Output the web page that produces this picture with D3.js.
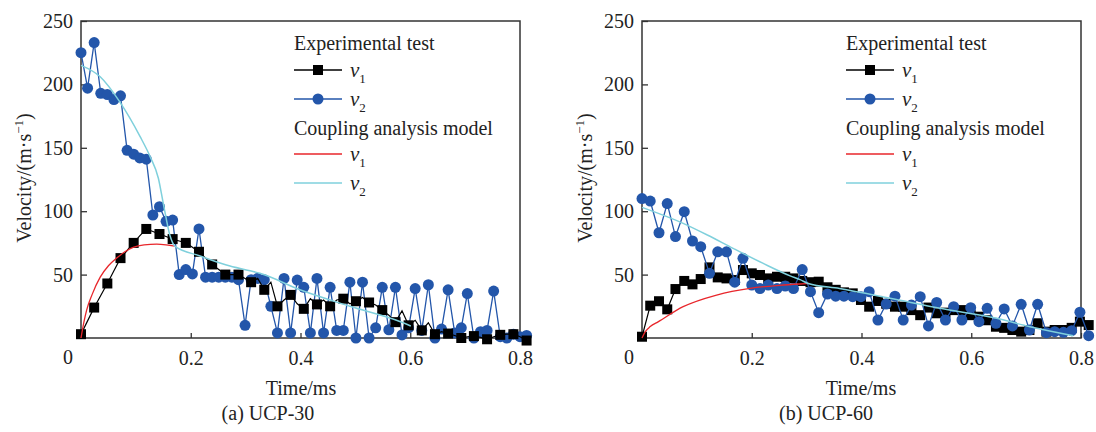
<!DOCTYPE html>
<html>
<head>
<meta charset="utf-8">
<script src="https://cdn.jsdelivr.net/npm/d3@7"></script>
<style>
  body { margin: 0; background: #fff; }
  text { font-family: "Liberation Serif", "Times New Roman", serif; fill: #222; }
</style>
</head>
<body>
<svg id="chart" width="1096" height="432"></svg>
<script>
// ---- data ----
// (a) UCP-30
var timeA = [0,0.012,0.024,0.036,0.048,0.060,0.072,0.084,0.096,0.107,0.119,0.131,0.143,0.155,0.167,0.179,0.191,0.203,0.215,0.227,
  0.239,0.251,0.263,0.275,0.287,0.299,0.310,0.322,0.334,0.346,0.358,0.370,0.382,0.394,0.406,0.418,0.430,0.442,0.454,0.466,
  0.478,0.490,0.501,0.513,0.525,0.537,0.549,0.561,0.573,0.585,0.597,0.609,0.621,0.633,0.645,0.657,0.669,0.681,0.693,0.704,
  0.716,0.728,0.740,0.752,0.764,0.776,0.788,0.800,0.812];
var v1A = [3,13.5,24,33.5,43,53,63,69,75,80.5, 86,84,82,80,78,76.5,75,71.5,68,63, 58,54,50,50,50,47,44,47,38,44,
  25,30,34,27,23,31,26.5,30,25,30, 31,27,29,32,28,26,22,18,12.5,21.5, 10,14,6,12,3,5,3.5,2,0,1, 1.5,0.5,-1,1,2.5,3,3,1,-2];
var v2A = [225,197,233,193,192,188,191,148,145,142, 141,97,103.5,92,93,50,54,50.5,86,48, 48,48,48,48,46,10,46,47,46,25,
  4,47,4,45.7,40,4,47,4,40,6, 6,44,0,44,0,8,40,6.5,40,2.4, 8,39,6,42,0,7,38,4,8,35, 0,5,6,37,1,0,3,1,2];
var modelV1A = [[0,0],[0.005,12],[0.0103,22],[0.02,34],[0.035,48],[0.05,57],[0.065,63],[0.08,68],[0.095,71.5],
  [0.115,73.5],[0.138,74],[0.155,73.5],[0.171,72.5]];
var modelV2A = [[0,215],[0.035,206],[0.071,186],[0.1075,159],[0.126,143],[0.141,126],[0.15,106],[0.162,81],[0.171,72.5],
  [0.217,64.7],[0.265,57.6],[0.308,53],[0.326,51],[0.399,38],[0.49,25],[0.581,13],[0.601,9.5]];

// (b) UCP-60
var timeB = [0,0.015,0.031,0.046,0.061,0.077,0.092,0.107,0.123,0.138,0.154,0.169,0.184,0.200,0.215,0.230,0.246,0.261,
  0.276,0.292,0.307,0.322,0.338,0.353,0.368,0.384,0.399,0.414,0.430,0.445,0.461,0.476,0.491,0.507,0.522,0.537,0.553,
  0.568,0.583,0.599,0.614,0.629,0.645,0.660,0.675,0.691,0.706,0.721,0.737,0.752,0.768,0.783,0.798,0.814];
var v1B = [1,25.5,29,22.6,38.6,45,42.3,46.5,55.7,47.8, 47,45.7,53.6,51,49.7,47,48.3,48.3,47,45, 44,44.4,40,38,36,35.2,30,24.7,29.2,27,
  24.7,24.7,22,18,24,19.5,20,22,22,18, 16.8,14,8.9,8,6.3,5,6.3,11.6,5,6.3, 6.3,8,12.9,10.2];
var v2B = [110,108,83,106,80,99.6,76.5,72,51,68, 68,44,62.8,41.8,39,41.8,39,41,39,54, 36.5,20,34.7,33,33,32.6,32.6,36.5,14.2,26.8,
  33,14.2,26,32.6,9.5,28,14.2,24.7,14.2,23.9, 12.9,23.4,11.6,22.9,9.5,26.6,6.3,26.6,4.2,5, 4.5,5.8,20.3,1.8];
var modelV1B = [[0,0],[0.006,5],[0.015,9],[0.03,12.9],[0.075,24.7],[0.136,33.9],[0.197,39.2],[0.25,41.5],[0.288,42.6],[0.305,43]];
var modelV2B = [[0,103],[0.075,90.4],[0.12,81],[0.166,70.7],[0.22,59],[0.27,49],[0.288,46],[0.303,43],[0.36,39],
  [0.452,31.3],[0.543,23.4],[0.646,15.5],[0.707,8.9],[0.786,1.8]];

var yTicks = [50, 100, 150, 200, 250];
var xTicks = [0.2, 0.4, 0.6, 0.8];

var panels = [
  { x0: 81, x1: 520, time: timeA, v1: v1A, v2: v2A, m1: modelV1A, m2: modelV2A, every: 2, blueOnTop: false,
    legendX: 294, ylabX: 31, xlabX: 301, capX: 268, caption: "(a) UCP-30" },
  { x0: 642, x1: 1081, time: timeB, v1: v1B, v2: v2B, m1: modelV1B, m2: modelV2B, every: 1, blueOnTop: true,
    legendX: 846, ylabX: 592, xlabX: 861, capX: 826, caption: "(b) UCP-60" }
];

var colBlack = "#000", colBlue = "#2356aa", colRed = "#e8262b", colCyan = "#7fd0dc";
var plotTop = 21, plotBottom = 338;

var svg = d3.select("#chart");

panels.forEach(function(p) {
  var g = svg.append("g");

  var x = d3.scaleLinear().domain([0, 0.8]).range([p.x0, p.x1]);
  var y = d3.scaleLinear().domain([0, 250]).range([plotBottom, plotTop]);

  // axes, ticks pointing inward
  var gy = g.append("g").attr("transform", "translate(" + p.x0 + ",0)")
    .call(d3.axisLeft(y).tickValues(yTicks).tickSize(-6).tickSizeOuter(0).tickPadding(8));
  var gx = g.append("g").attr("transform", "translate(0," + plotBottom + ")")
    .call(d3.axisBottom(x).tickValues(xTicks).tickSize(-5).tickSizeOuter(0).tickPadding(13));
  [gy, gx].forEach(function(a) {
    a.select(".domain").remove();
    a.selectAll(".tick line").attr("stroke", "#333").attr("stroke-width", 1.3);
    a.selectAll("text").style("font-size", "20px").attr("fill", "#222")
      .style("font-family", '"Liberation Serif", serif');
  });

  g.append("rect")
    .attr("x", p.x0).attr("y", plotTop)
    .attr("width", p.x1 - p.x0).attr("height", plotBottom - plotTop)
    .attr("fill", "none").attr("stroke", "#333").attr("stroke-width", 1.5);

  // shared origin label
  g.append("text").attr("x", p.x0 - 13).attr("y", 364)
    .attr("text-anchor", "middle").style("font-size", "20px").text("0");

  var line = d3.line().x(function(d) { return x(d[0]); }).y(function(d) { return y(d[1]); });
  var smooth = d3.line().curve(d3.curveMonotoneX)
    .x(function(d) { return x(d[0]); }).y(function(d) { return y(d[1]); });

  var d1 = p.time.map(function(t, i) { return [t, p.v1[i]]; });
  var d2 = p.time.map(function(t, i) { return [t, p.v2[i]]; });

  function drawV1() {
    g.append("path").datum(d1).attr("d", line)
      .attr("fill", "none").attr("stroke", colBlack).attr("stroke-width", 1.2);
    g.selectAll(null).data(d1.filter(function(d, i) { return i % p.every === 0; }))
      .enter().append("rect")
      .attr("x", function(d) { return x(d[0]) - 5; })
      .attr("y", function(d) { return y(d[1]) - 5; })
      .attr("width", 10).attr("height", 10).attr("fill", colBlack);
  }
  function drawV2() {
    g.append("path").datum(d2).attr("d", line)
      .attr("fill", "none").attr("stroke", colBlue).attr("stroke-width", 1.3);
    g.selectAll(null).data(d2).enter().append("circle")
      .attr("cx", function(d) { return x(d[0]); })
      .attr("cy", function(d) { return y(d[1]); })
      .attr("r", 5.5).attr("fill", colBlue);
  }
  if (p.blueOnTop) { drawV1(); drawV2(); } else { drawV2(); drawV1(); }

  // coupling model curves
  g.append("path").datum(p.m1).attr("d", smooth)
    .attr("fill", "none").attr("stroke", colRed).attr("stroke-width", 1.3);
  g.append("path").datum(p.m2).attr("d", smooth)
    .attr("fill", "none").attr("stroke", colCyan).attr("stroke-width", 1.5);

  // legend
  var lx = p.legendX;
  var leg = g.append("g");
  leg.append("text").attr("x", lx).attr("y", 50).style("font-size", "20px").text("Experimental test");
  leg.append("text").attr("x", lx).attr("y", 135).style("font-size", "20px").text("Coupling analysis model");
  var rows = [
    { y: 70, color: colBlack, mark: "square", sub: "1" },
    { y: 99, color: colBlue, mark: "circle", sub: "2" },
    { y: 154, color: colRed, mark: null, sub: "1" },
    { y: 183, color: colCyan, mark: null, sub: "2" }
  ];
  rows.forEach(function(r) {
    leg.append("line").attr("x1", lx).attr("x2", lx + 48).attr("y1", r.y).attr("y2", r.y)
      .attr("stroke", r.color).attr("stroke-width", r.mark ? 1.3 : 1.5);
    if (r.mark === "square") {
      leg.append("rect").attr("x", lx + 19).attr("y", r.y - 5).attr("width", 10).attr("height", 10).attr("fill", r.color);
    } else if (r.mark === "circle") {
      leg.append("circle").attr("cx", lx + 24).attr("cy", r.y).attr("r", 5.5).attr("fill", r.color);
    }
    var t = leg.append("text").attr("x", lx + 56).attr("y", r.y + 7).style("font-size", "21px");
    t.append("tspan").style("font-style", "italic").text("v");
    t.append("tspan").attr("dy", 6).style("font-size", "13px").text(r.sub);
  });

  // axis titles and caption
  var yl = g.append("text")
    .attr("transform", "translate(" + p.ylabX + ",178) rotate(-90)")
    .attr("text-anchor", "middle").style("font-size", "20px");
  yl.append("tspan").text("Velocity/(m·s");
  yl.append("tspan").attr("dy", -8).style("font-size", "13px").text("−1");
  yl.append("tspan").attr("dy", 8).text(")");

  g.append("text").attr("x", p.xlabX).attr("y", 395).attr("text-anchor", "middle")
    .style("font-size", "20px").text("Time/ms");
  g.append("text").attr("x", p.capX).attr("y", 420).attr("text-anchor", "middle")
    .style("font-size", "20px").text(p.caption);
});
</script>
</body>
</html>
